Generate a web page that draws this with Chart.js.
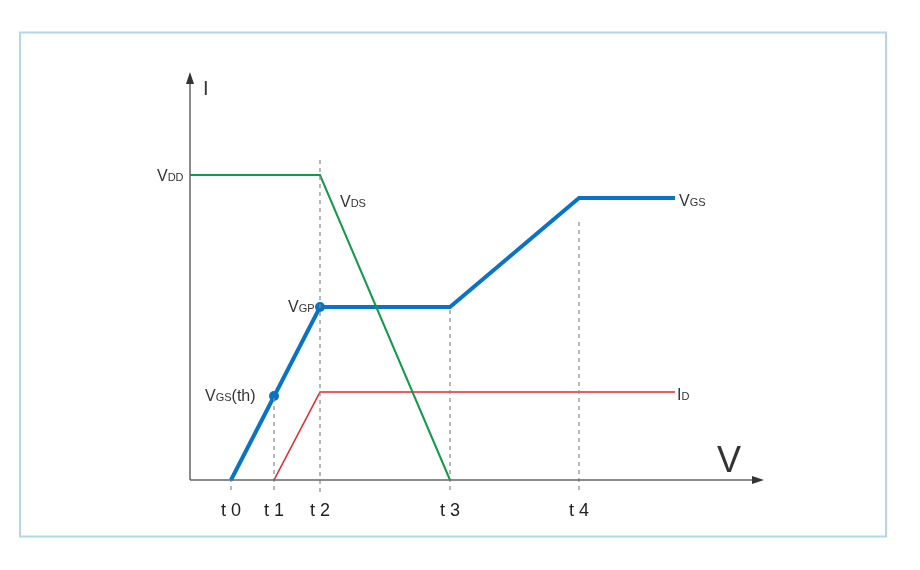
<!DOCTYPE html>
<html>
<head>
<meta charset="utf-8">
<script src="https://cdn.jsdelivr.net/npm/chart.js@4.4.1/dist/chart.umd.min.js"></script>
<style>
  html, body { margin: 0; padding: 0; background: #fff; }
  #wrap { width: 920px; height: 570px; position: relative; }
</style>
</head>
<body>
<div id="wrap"><canvas id="chart1" width="920" height="570"></canvas></div>
<script>
// time marks along the x axis
var tNames = ["t 0", "t 1", "t 2", "t 3", "t 4"];
var tPos = [4.1, 8.4, 13, 26, 38.9];
var xEnd = 48.5;

// levels
var vdd = 30.5;
var vgsMax = 28.2;
var vgp = 17.3;
var idMax = 8.8;
var vth = 8.4;

// curves (x, y)
var vgsX = [tPos[0], tPos[2], tPos[3], tPos[4], xEnd];
var vgsY = [0, vgp, vgp, vgsMax, vgsMax];
var vdsX = [0, tPos[2], tPos[3]];
var vdsY = [vdd, vdd, 0];
var idX = [tPos[1], tPos[2], xEnd];
var idY = [0, idMax, idMax];
var dotX = [tPos[1], tPos[2]];
var dotY = [vth, vgp];

// dashed guide lines: top and bottom of each
var guideTop = [0, 8.5, 32.2, 17, 26.2];
var guideBottom = [-1, -1, -1.2, -1, -1];

function pts(xs, ys) {
  return xs.map(function (x, i) { return { x: x, y: ys[i] }; });
}

var datasets = [];
tPos.forEach(function (t, i) {
  datasets.push({
    data: [{ x: t, y: guideBottom[i] }, { x: t, y: guideTop[i] }],
    borderColor: "#8a8a8a",
    borderWidth: 1.2,
    borderDash: [4, 4],
    pointRadius: 0,
    clip: false
  });
});
datasets.push({ data: pts(vdsX, vdsY), borderColor: "#12994a", borderWidth: 2, pointRadius: 0, clip: false });
datasets.push({ data: pts(idX, idY), borderColor: "#e8262a", borderWidth: 1.6, pointRadius: 0, clip: false });
datasets.push({ data: pts(vgsX, vgsY), borderColor: "#0a74c4", borderWidth: 4, pointRadius: 0, clip: false, borderJoinStyle: "miter" });
datasets.push({ data: pts(dotX, dotY), showLine: false, pointRadius: 5, pointBackgroundColor: "#0a74c4", pointBorderWidth: 0, clip: false });

function subText(ctx, x, y, main, sub, tail) {
  ctx.fillStyle = "#333";
  ctx.textAlign = "left";
  ctx.textBaseline = "alphabetic";
  ctx.font = "16px 'Liberation Sans', Arial, sans-serif";
  ctx.fillText(main, x, y);
  var w = ctx.measureText(main).width;
  ctx.font = "11px 'Liberation Sans', Arial, sans-serif";
  ctx.fillText(sub, x + w, y);
  w += ctx.measureText(sub).width;
  if (tail) {
    ctx.font = "16px 'Liberation Sans', Arial, sans-serif";
    ctx.fillText(tail, x + w, y);
  }
}

var decor = {
  id: "decor",
  beforeDraw: function (chart) {
    var ctx = chart.ctx;
    ctx.save();
    ctx.strokeStyle = "#b3d6e8";
    ctx.lineWidth = 2;
    ctx.strokeRect(20, 32.5, 866, 504);
    ctx.restore();
  },
  afterDatasetsDraw: function (chart) {
    var ctx = chart.ctx, a = chart.chartArea;
    var xs = chart.scales.x, ys = chart.scales.y;
    ctx.save();
    // axes with arrows
    ctx.strokeStyle = "#666";
    ctx.fillStyle = "#333";
    ctx.lineWidth = 1.5;
    ctx.beginPath();
    ctx.moveTo(a.left, a.bottom);
    ctx.lineTo(a.left, a.top + 4);
    ctx.moveTo(a.left, a.bottom);
    ctx.lineTo(a.right - 4, a.bottom);
    ctx.stroke();
    ctx.beginPath();
    ctx.moveTo(a.left, a.top - 3);
    ctx.lineTo(a.left - 4, a.top + 9);
    ctx.lineTo(a.left + 4, a.top + 9);
    ctx.closePath();
    ctx.fill();
    ctx.beginPath();
    ctx.moveTo(a.right + 2, a.bottom);
    ctx.lineTo(a.right - 10, a.bottom - 4);
    ctx.lineTo(a.right - 10, a.bottom + 4);
    ctx.closePath();
    ctx.fill();

    ctx.fillStyle = "#333";
    ctx.font = "20px 'Liberation Sans', Arial, sans-serif";
    ctx.fillText("I", a.left + 13, a.top + 20);
    ctx.font = "36px 'Liberation Sans', Arial, sans-serif";
    ctx.fillText("V", a.right - 45, a.bottom - 8);

    subText(ctx, a.left - 33, ys.getPixelForValue(vdd) + 6, "V", "DD");
    subText(ctx, xs.getPixelForValue(tPos[2]) + 20, ys.getPixelForValue(vdd) + 32, "V", "DS");
    subText(ctx, xs.getPixelForValue(tPos[2]) - 32, ys.getPixelForValue(vgp) + 5, "V", "GP");
    subText(ctx, xs.getPixelForValue(tPos[1]) - 69, ys.getPixelForValue(vth) + 5, "V", "GS", "(th)");
    subText(ctx, xs.getPixelForValue(xEnd) + 4, ys.getPixelForValue(vgsMax) + 8, "V", "GS");
    subText(ctx, xs.getPixelForValue(xEnd) + 2, ys.getPixelForValue(idMax) + 8, "I", "D");
    ctx.restore();
  }
};

var options = {
  responsive: false,
  animation: false,
  layout: { padding: { left: 190, right: 158, top: 75, bottom: 0 } },
  plugins: { legend: { display: false }, tooltip: { enabled: false } },
  scales: {
    x: {
      type: "linear",
      min: 0,
      max: 57.2,
      border: { display: false },
      grid: { display: false, drawTicks: false },
      afterFit: function (scale) { scale.height = 90; },
      afterBuildTicks: function (scale) {
        scale.ticks = tPos.map(function (v) { return { value: v }; });
      },
      ticks: {
        autoSkip: false,
        maxRotation: 0,
        padding: 20,
        color: "#222",
        font: { family: "'Liberation Sans', Arial, sans-serif", size: 18 },
        callback: function (value) {
          var i = tPos.indexOf(value);
          return i >= 0 ? tNames[i] : "";
        }
      }
    },
    y: {
      type: "linear",
      display: false,
      min: 0,
      max: 40.5
    }
  }
};

var chart1 = new Chart(document.getElementById("chart1").getContext("2d"), {
  type: "scatter",
  data: { datasets: datasets.map(function (d) { if (d.showLine === undefined) d.showLine = true; return d; }) },
  options: options,
  plugins: [decor]
});
</script>
</body>
</html>
